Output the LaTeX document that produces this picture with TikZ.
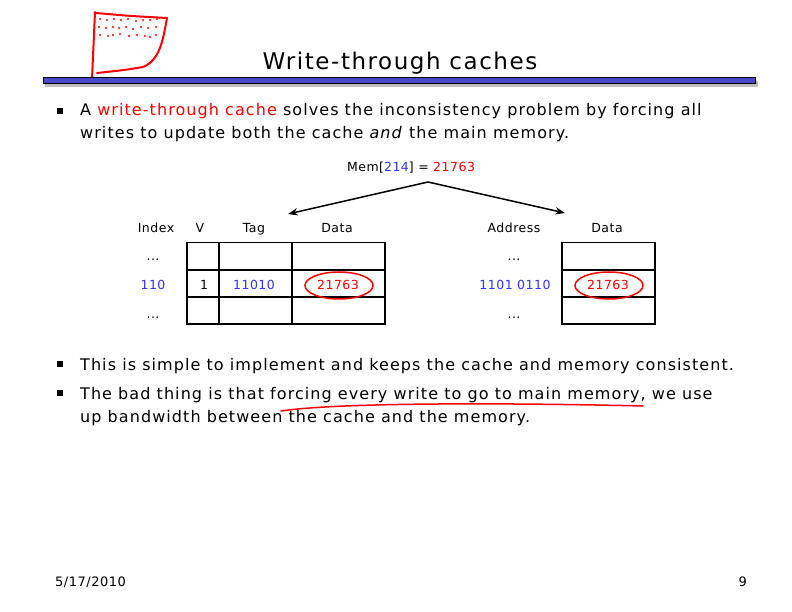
\documentclass[tikz,border=0pt]{standalone}
\usepackage{fontspec}
\setmainfont{DejaVu Sans}
\newfontfamily\bodyfont[LetterSpace=6.7]{DejaVu Sans}
\newfontfamily\smallfont[LetterSpace=4]{DejaVu Sans}
\usepackage{tikz}
\usetikzlibrary{arrows.meta,shapes.geometric}

\definecolor{slideblue}{RGB}{51,51,255}
\definecolor{slidered}{RGB}{255,0,0}
\definecolor{barblue}{RGB}{72,72,200}

\begin{document}
\begin{tikzpicture}[x=1pt, y=-1pt, >={Stealth[]},
    txt/.style={inner sep=0pt, anchor=base west, font=\bodyfont\fontsize{16}{18}\selectfont},
    small/.style={inner sep=0pt, anchor=base, font=\smallfont\fontsize{12.5}{14}\selectfont},
    cell/.style={draw, line width=1.6pt, rectangle, inner sep=0pt, minimum height=27pt},
    bullet/.style={fill=black, inner sep=0pt, minimum size=5.5pt},
    hilite/.style={draw=slidered, line width=1.5pt, ellipse, minimum width=68pt, minimum height=27pt, inner sep=0pt}]
    \useasboundingbox[fill=white] (0,0) rectangle (792,612);

    % flag
    \begin{scope}[red, line width=2pt, line cap=round, line join=round]
        \draw (95,12) -- (92,79);
        \draw (96,13) .. controls (130,16) .. (167,18) .. controls (163,40) and (160,60) .. (143,67)
            .. controls (125,70) .. (97,73);
        \foreach \x/\y in {100/19,107/20,114/19,121/20,128/19,136/21,143/20,150/20,157/19,
                           99/27,106/28,113/27,119/28,126/27,133/29,141/27,148/28,156/27,
                           100/35,108/36,113/35,120/34,129/36,137/35,145/36,150/37,156/35}
            \fill (\x,\y) circle (1.2pt);
    \end{scope}

    % title and bar
    \node[inner sep=0pt, anchor=base, font=\bodyfont\fontsize{23}{23}\selectfont] (title) at (400,70) {Write-through caches};
    \fill[black!25] (45,81) rectangle (758,87);
    \draw[line width=1pt, fill=barblue] (43,78) rectangle (755,84);

    % bullet 1
    \node[bullet] (b1) at (60,111) {};
    \node[txt] (l1) at (80,116) {A \textcolor{slidered}{write-through cache} solves the inconsistency problem by forcing all};
    \node[txt] (l2) at (80,139) {writes to update both the cache \textit{and} the main memory.};

    % write and arrows
    \node[small] (mem) at (411,172) {Mem[\textcolor{slideblue}{214}] = \textcolor{slidered}{21763}};
    \coordinate (split) at (428,182);
    \coordinate (cachetip) at (288,214);
    \coordinate (memtip) at (565,213);
    \draw[line width=1.5pt, ->] (split) -- (cachetip);
    \draw[line width=1.5pt, ->] (split) -- (memtip);

    % headers
    \node[small] (hidx) at (156,233) {Index};
    \node[small] (hv) at (200,233) {V};
    \node[small] (htag) at (254,233) {Tag};
    \node[small] (hdata) at (337,233) {Data};
    \node[small] (haddr) at (514,233) {Address};
    \node[small] (hmdata) at (607,233) {Data};

    % cache and memory tables
    \foreach \r/\y in {1/256, 2/283.5, 3/310.5} {
        \node[cell, minimum width=32pt] (v\r) at (203,\y) {};
        \node[cell, minimum width=73pt] (tag\r) at (255.5,\y) {};
        \node[cell, minimum width=93pt] (data\r) at (338.5,\y) {};
        \node[cell, minimum width=93pt] (mdata\r) at (608.5,\y) {};
    }
    \node[hilite] (hit) at (339,285.5) {};
    \node[hilite] (mhit) at (609,285.5) {};
    \node[small] (valid) at (204,289) {1};
    \node[small, text=slideblue] (tagval) at (254,289) {11010};
    \node[small, text=slidered] (hitval) at (338,289) {21763};
    \node[small, text=slidered] (mhitval) at (608,289) {21763};

    \node[small] (idx1) at (153,261) {...};
    \node[small, text=slideblue] (idx2) at (153,289) {110};
    \node[small] (idx3) at (153,318) {...};
    \node[small] (addr1) at (514,261) {...};
    \node[small, text=slideblue] (addr2) at (515,289) {1101 0110};
    \node[small] (addr3) at (514,318) {...};

    % bullets 2 and 3
    \node[bullet] (b2) at (60,364) {};
    \node[txt] (l3) at (80,370) {This is simple to implement and keeps the cache and memory consistent.};
    \node[bullet] (b3) at (60,393) {};
    \node[txt] (l4) at (80,399) {The bad thing is that forcing every write to go to main memory, we use};
    \node[txt] (l5) at (80,422) {up bandwidth between the cache and the memory.};
    \draw[red, line width=1.5pt, line cap=round] (281,411) .. controls (340,402) and (520,403) .. (643,406);

    % footer
    \node[small, anchor=base west, font=\smallfont\fontsize{13}{14}\selectfont] (date) at (55,586) {5/17/2010};
    \node[small, anchor=base east, font=\smallfont\fontsize{13}{14}\selectfont] (page) at (747,586) {9};
\end{tikzpicture}
\end{document}
